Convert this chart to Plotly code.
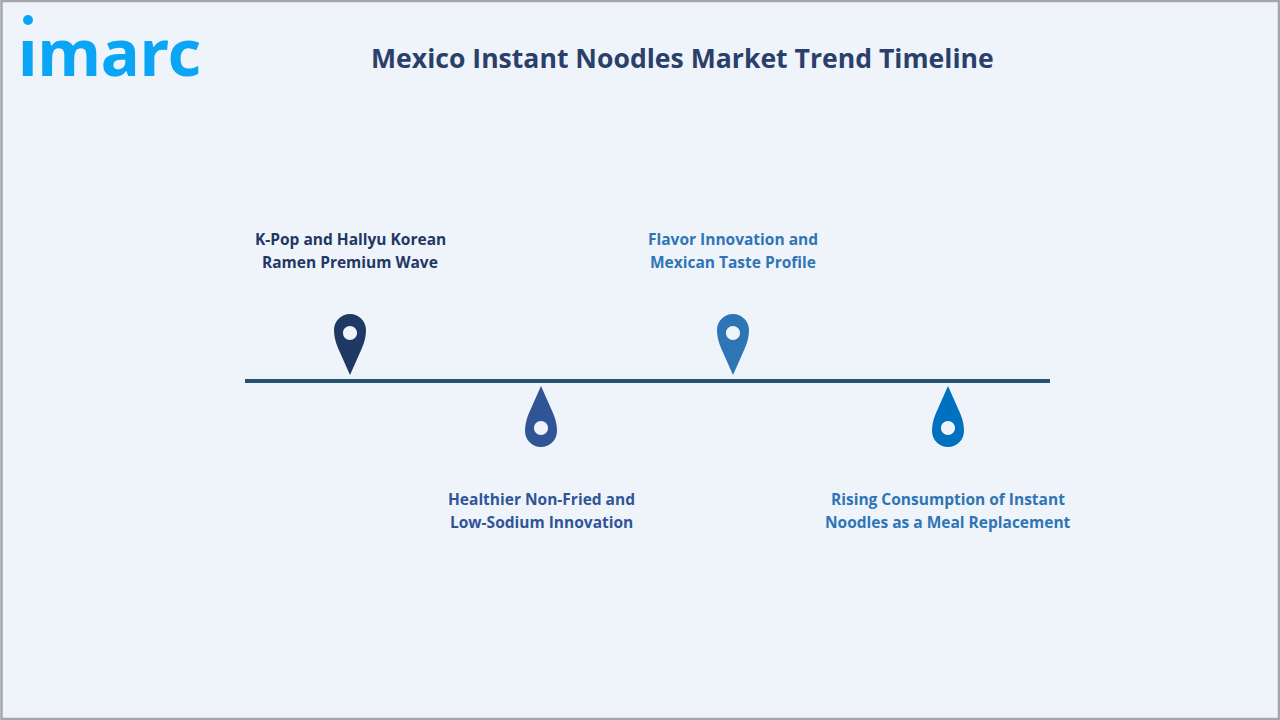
import plotly.graph_objects as go

title = "Mexico Instant Noodles Market Trend Timeline"
logo = "ımarc"

# timeline stops
stop_x = [350, 541, 733, 948]
stop_side = ["up", "down", "up", "down"]
stop_colors = ["#1F3864", "#2F5597", "#2E75B6", "#0070C0"]
label_colors = ["#1F3864", "#2F5597", "#2E75B6", "#2E75B6"]
label_line1 = ["K-Pop and Hallyu Korean", "Healthier Non-Fried and",
               "Flavor Innovation and", "Rising Consumption of Instant"]
label_line2 = ["Ramen Premium Wave", "Low-Sodium Innovation",
               "Mexican Taste Profile", "Noodles as a Meal Replacement"]

BG = "#EFF3FA"
LINE_Y = 381


def circle(cx, cy, r):
    k = 0.5523 * r
    return (f"M {cx-r} {cy} C {cx-r} {cy-k} {cx-k} {cy-r} {cx} {cy-r} "
            f"C {cx+k} {cy-r} {cx+r} {cy-k} {cx+r} {cy} "
            f"C {cx+r} {cy+k} {cx+k} {cy+r} {cx} {cy+r} "
            f"C {cx-k} {cy+r} {cx-r} {cy+k} {cx-r} {cy} Z")


def pin_path(x, side):
    # s flips the pin: up pins point down at the line, down pins point up
    s = 1 if side == "up" else -1
    tip = LINE_Y - 6 * s if side == "up" else LINE_Y + 5
    cy = tip - 45 * s
    r = 16
    k = 0.5523 * r
    body = (f"M {x} {tip} L {x-12} {cy+18*s} "
            f"C {x-15} {cy+11*s} {x-r} {cy+5*s} {x-r} {cy} "
            f"C {x-r} {cy-k*s} {x-k} {cy-r*s} {x} {cy-r*s} "
            f"C {x+k} {cy-r*s} {x+r} {cy-k*s} {x+r} {cy} "
            f"C {x+r} {cy+5*s} {x+15} {cy+11*s} {x+12} {cy+18*s} Z ")
    return body + circle(x, cy + 3 * s, 7)


fig = go.Figure()

shapes = [
    dict(type="rect", x0=1.5, x1=1279, y0=1, y1=719, line=dict(color="#A6A6A6", width=2.5), fillcolor=BG),
    dict(type="line", x0=245, x1=1050, y0=LINE_Y, y1=LINE_Y, line=dict(color="#255378", width=4)),
    dict(type="circle", x0=23, x1=33, y0=15, y1=25, line=dict(width=0), fillcolor="#0AA5F5"),
]
for x, side, c in zip(stop_x, stop_side, stop_colors):
    shapes.append(dict(type="path", path=pin_path(x, side), fillcolor=c, line=dict(width=0)))

annotations = [
    dict(x=682, y=57.5, text=f"<b>{title}</b>", font=dict(family="Open Sans", size=26.6, color="#2B3F6B")),
    dict(x=109, y=51, text=f"<b>{logo}</b>", font=dict(family="Noto Sans", size=65, color="#0AA5F5")),
]
for x, side, c, l1, l2 in zip(stop_x, stop_side, label_colors, label_line1, label_line2):
    y1 = 239 if side == "up" else 499
    annotations.append(dict(x=x, y=y1, text=f"<b>{l1}</b>", font=dict(family="Open Sans", size=15.5, color=c)))
    annotations.append(dict(x=x, y=y1 + 23, text=f"<b>{l2}</b>", font=dict(family="Open Sans", size=15.5, color=c)))
for a in annotations:
    a.update(showarrow=False, xref="x", yref="y", xanchor="center", yanchor="middle")

fig.update_layout(
    width=1280,
    height=720,
    margin=dict(l=0, r=0, t=0, b=0),
    paper_bgcolor=BG,
    plot_bgcolor=BG,
    showlegend=False,
    shapes=shapes,
    annotations=annotations,
    xaxis=dict(range=[0, 1280], visible=False),
    yaxis=dict(range=[720, 0], visible=False),
)

fig.write_html("out.html", config=dict(displayModeBar=False), post_script="document.body.style.margin='0';")
